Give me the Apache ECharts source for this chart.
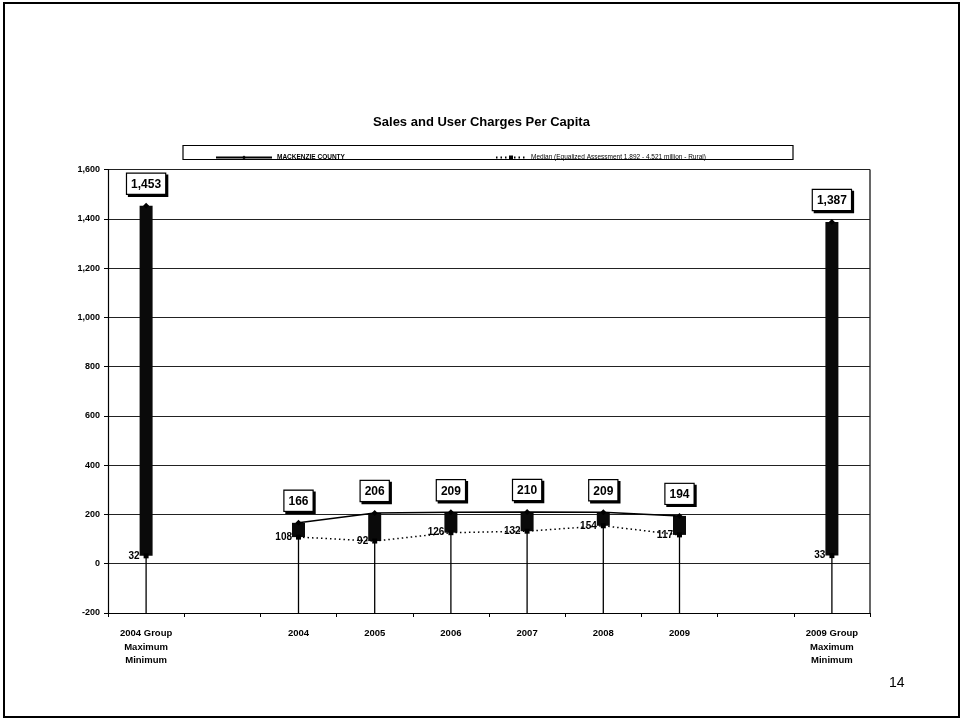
<!DOCTYPE html>
<html>
<head>
<meta charset="utf-8">
<script src="https://cdn.jsdelivr.net/npm/echarts@6/dist/echarts.min.js"></script>
<style>
  html, body { margin: 0; padding: 0; background: #fff; }
  #chart { width: 963px; height: 721px; }
</style>
</head>
<body>
<div id="chart"></div>
<script>
// Category slots: group range columns at each end, blank spacer columns beside them
const categories = ['2004 Group\nMaximum\nMinimum', '', '2004', '2005', '2006', '2007', '2008', '2009', '', '2009 Group\nMaximum\nMinimum'];
// Mackenzie County per-capita values (group columns hold the group maximum)
const countyValues = [1453, null, 166, 206, 209, 210, 209, 194, null, 1387];
// Median of the comparison group (group columns hold the group minimum)
const medianValues = [32, null, 108, 92, 126, 132, 154, 117, null, 33];
const yTicks = { min: -200, max: 1600, interval: 200 };
const countyName = 'MACKENZIE COUNTY';
const medianName = 'Median (Equalized Assessment 1,892 - 4,521 million - Rural)';

const FONT = 'Liberation Sans, Arial, sans-serif';

// high/low pairs for the range bars and drop lines
const rangeData = [];
categories.forEach((c, i) => {
  if (countyValues[i] != null && medianValues[i] != null) {
    rangeData.push([i, countyValues[i], medianValues[i]]);
  }
});

const chart = echarts.init(document.getElementById('chart'), null, { renderer: 'canvas' });

const boxedLabel = {
  show: true,
  position: 'top',
  distance: 9,
  fontFamily: FONT,
  fontWeight: 'bold',
  fontSize: 12,
  color: '#000',
  backgroundColor: '#fff',
  borderColor: '#000',
  borderWidth: 1.2,
  padding: [5, 4, 3, 4],
  shadowColor: '#000',
  shadowOffsetX: 2,
  shadowOffsetY: 2,
  shadowBlur: 0,
  formatter: p => p.value.toLocaleString('en-US')
};

chart.setOption({
  animation: false,
  backgroundColor: '#fff',
  title: {
    text: 'Sales and User Charges Per Capita',
    left: 'center',
    top: 111,
    textStyle: { fontFamily: FONT, fontWeight: 'bold', fontSize: 13, color: '#000' }
  },
  legend: [
    {
      data: [countyName],
      left: 210, top: 149,
      itemWidth: 56, itemHeight: 5, itemGap: 4,
      textStyle: { fontFamily: FONT, fontSize: 6.5, fontWeight: 'bold', color: '#000' }
    },
    {
      data: [medianName],
      left: 490, top: 149,
      itemWidth: 30, itemHeight: 5, itemGap: 4,
      textStyle: { fontFamily: FONT, fontSize: 6.5, color: '#000' }
    }
  ],
  grid: { left: 108, right: 93, top: 169.5, bottom: 108, containLabel: false, show: false },
  xAxis: {
    type: 'category',
    data: categories,
    boundaryGap: true,
    axisLine: { show: true, onZero: false, lineStyle: { color: '#000', width: 1.2 } },
    axisTick: { show: true, inside: false, length: 4, lineStyle: { color: '#000' } },
    axisLabel: {
      interval: 0,
      margin: 14,
      fontFamily: FONT, fontWeight: 'bold', fontSize: 9.5, color: '#000',
      lineHeight: 13.5
    },
    splitLine: { show: false }
  },
  yAxis: {
    type: 'value',
    min: yTicks.min, max: yTicks.max, interval: yTicks.interval,
    axisLine: { show: true, lineStyle: { color: '#000', width: 1.2 } },
    axisTick: { show: true, length: 4, lineStyle: { color: '#000' } },
    axisLabel: {
      margin: 8,
      fontFamily: FONT, fontWeight: 'bold', fontSize: 9, color: '#000',
      formatter: v => v.toLocaleString('en-US')
    },
    splitLine: { show: true, lineStyle: { color: '#222', width: 1.2 } }
  },
  graphic: [
    // slide frame
    { type: 'rect', shape: { x: 4, y: 3, width: 955, height: 714 }, style: { fill: 'none', stroke: '#000', lineWidth: 2 }, silent: true, z: -1 },
    // legend frame
    { type: 'rect', shape: { x: 183, y: 145.5, width: 610, height: 14 }, style: { fill: 'none', stroke: '#000', lineWidth: 1.2 }, silent: true },
    // right edge of plot area
    { type: 'line', shape: { x1: 870, y1: 169.5, x2: 870, y2: 613 }, style: { stroke: '#000', lineWidth: 1.2 }, silent: true },
    // page number
    { type: 'text', left: 889, top: 676, style: { text: '14', fontFamily: FONT, fontSize: 14, fill: '#000' } }
  ],
  series: [
    {
      name: 'range',
      type: 'custom',
      data: rangeData,
      encode: { x: 0, y: [1, 2] },
      z: 2,
      renderItem: (params, api) => {
        const i = api.value(0);
        const a = api.value(1), b = api.value(2);
        const top = api.coord([i, Math.max(a, b)]);
        const low = api.coord([i, Math.min(a, b)]);
        const bottom = params.coordSys.y + params.coordSys.height;
        const w = 13;
        return {
          type: 'group',
          children: [
            { type: 'line', shape: { x1: top[0], y1: top[1], x2: top[0], y2: bottom }, style: { stroke: '#000', lineWidth: 1.3 } },
            { type: 'rect', shape: { x: top[0] - w / 2, y: top[1], width: w, height: low[1] - top[1] }, style: { fill: '#0a0a0a' } }
          ]
        };
      }
    },
    {
      name: countyName,
      type: 'line',
      data: countyValues,
      connectNulls: false,
      z: 3,
      symbol: 'diamond',
      symbolSize: 6,
      itemStyle: { color: '#000' },
      lineStyle: { color: '#000', width: 1.5, type: 'solid' },
      label: boxedLabel
    },
    {
      name: medianName,
      type: 'line',
      data: medianValues,
      connectNulls: false,
      z: 3,
      symbol: 'rect',
      symbolSize: 5,
      itemStyle: { color: '#000' },
      lineStyle: { color: '#000', width: 1.5, type: [1.5, 3] },
      label: {
        show: true,
        position: 'left',
        distance: 4,
        fontFamily: FONT, fontWeight: 'bold', fontSize: 10, color: '#000',
        formatter: p => p.value.toLocaleString('en-US')
      }
    }
  ]
});
</script>
</body>
</html>
